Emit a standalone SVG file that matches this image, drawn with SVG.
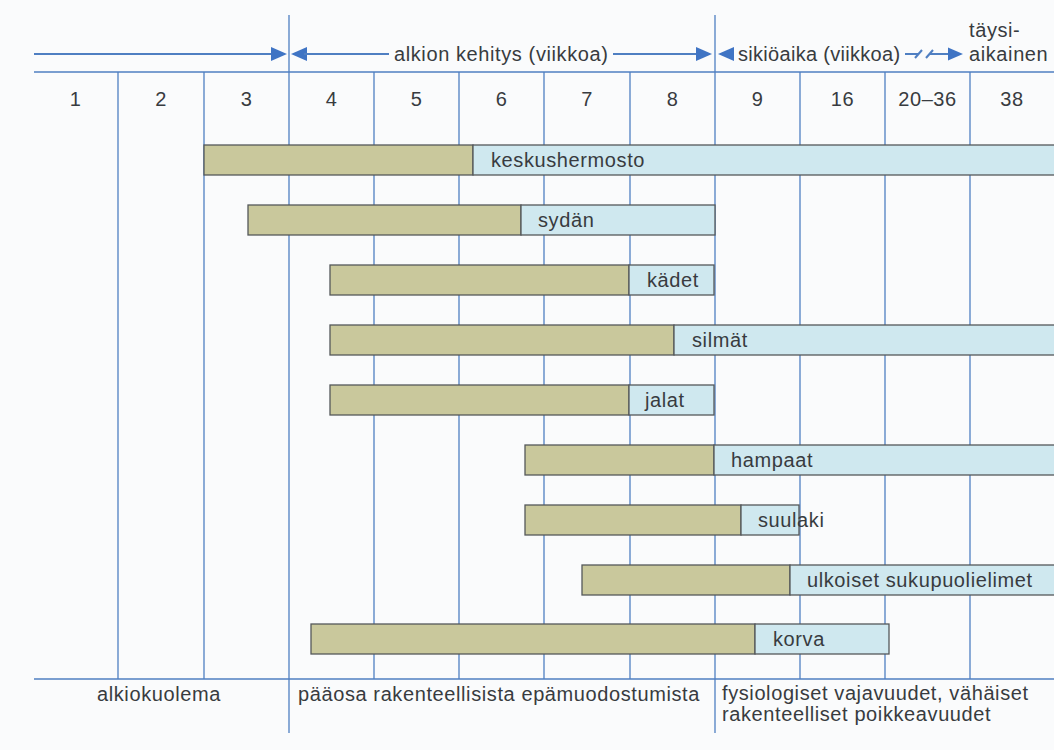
<svg xmlns="http://www.w3.org/2000/svg" width="1054" height="750" viewBox="0 0 1054 750">
  <defs>
    <style>
      .bg { fill: #fafbfc; }
      .grid { stroke: #4f7fc2; stroke-width: 1.3; fill: none; }
      .axis { stroke: #4f7fc2; stroke-width: 2; fill: none; }
      .head { fill: #3f74c4; }
      .t { font-family: "Liberation Sans", Arial, sans-serif; font-size: 20px; letter-spacing: 0.6px; fill: #383b40; }
      .c { text-anchor: middle; }
      .g { fill: #c9c89c; stroke: #55585a; stroke-width: 1.3; }
      .b { fill: #cfe8ef; stroke: #55585a; stroke-width: 1.3; }
    </style>
  </defs>
  <rect class="bg" x="0" y="0" width="1054" height="750"/>

  <g id="grid">
    <line class="grid" x1="34" y1="72" x2="1054" y2="72"/>
    <line class="grid" x1="34" y1="679" x2="1054" y2="679"/>
    <line class="grid" x1="118" y1="72" x2="118" y2="679"/>
    <line class="grid" x1="204" y1="72" x2="204" y2="679"/>
    <line class="grid" x1="289" y1="15" x2="289" y2="733"/>
    <line class="grid" x1="374" y1="72" x2="374" y2="679"/>
    <line class="grid" x1="459" y1="72" x2="459" y2="679"/>
    <line class="grid" x1="544" y1="72" x2="544" y2="679"/>
    <line class="grid" x1="630" y1="72" x2="630" y2="679"/>
    <line class="grid" x1="715" y1="15" x2="715" y2="733"/>
    <line class="grid" x1="800" y1="72" x2="800" y2="679"/>
    <line class="grid" x1="885" y1="72" x2="885" y2="679"/>
    <line class="grid" x1="970" y1="72" x2="970" y2="679"/>
  </g>

  <g id="week-labels" class="t c">
    <text x="75.5" y="106">1</text>
    <text x="161" y="106">2</text>
    <text x="246.5" y="106">3</text>
    <text x="331.5" y="106">4</text>
    <text x="416.5" y="106">5</text>
    <text x="501.5" y="106">6</text>
    <text x="587" y="106">7</text>
    <text x="672.5" y="106">8</text>
    <text x="757.5" y="106">9</text>
    <text x="842.5" y="106">16</text>
    <text x="927.5" y="106">20–36</text>
    <text x="1012" y="106">38</text>
  </g>

  <g id="connectors">
    <line class="axis" x1="34" y1="54" x2="274" y2="54"/>
    <polygon class="head" points="287,54 271,47 271,61"/>
    <polygon class="head" points="291,54 307,47 307,61"/>
    <line class="axis" x1="304" y1="54" x2="389" y2="54"/>
    <line class="axis" x1="613" y1="54" x2="699" y2="54"/>
    <polygon class="head" points="712,54 696,47 696,61"/>
    <polygon class="head" points="718,54 734,47 734,61"/>
    <line class="axis" x1="905" y1="54" x2="918" y2="54"/>
    <line class="axis" x1="915" y1="58" x2="922" y2="50" stroke-width="1.4"/>
    <line class="axis" x1="926" y1="58" x2="933" y2="50" stroke-width="1.4"/>
    <line class="axis" x1="930" y1="54" x2="951" y2="54"/>
    <polygon class="head" points="963,54 948,47.5 948,60.5"/>
  </g>

  <g id="header-labels" class="t">
    <text x="394" y="61">alkion kehitys (viikkoa)</text>
    <text x="738" y="61" style="letter-spacing:0.3px">sikiöaika (viikkoa)</text>
    <text x="969" y="37">täysi-</text>
    <text x="969" y="61">aikainen</text>
  </g>

  <g id="bar-keskushermosto">
    <rect class="g" x="204" y="145" width="269" height="30"/>
    <rect class="b" x="473" y="145" width="590" height="30"/>
    <text class="t" x="491" y="167">keskushermosto</text>
  </g>
  <g id="bar-sydan">
    <rect class="g" x="248" y="205" width="273" height="30"/>
    <rect class="b" x="521" y="205" width="194" height="30"/>
    <text class="t" x="538" y="227">sydän</text>
  </g>
  <g id="bar-kadet">
    <rect class="g" x="330" y="265" width="299" height="30"/>
    <rect class="b" x="629" y="265" width="85" height="30"/>
    <text class="t" x="647" y="287">kädet</text>
  </g>
  <g id="bar-silmat">
    <rect class="g" x="330" y="325" width="344" height="30"/>
    <rect class="b" x="674" y="325" width="389" height="30"/>
    <text class="t" x="692" y="347">silmät</text>
  </g>
  <g id="bar-jalat">
    <rect class="g" x="330" y="385" width="299" height="30"/>
    <rect class="b" x="629" y="385" width="85" height="30"/>
    <text class="t" x="645" y="407">jalat</text>
  </g>
  <g id="bar-hampaat">
    <rect class="g" x="525" y="445" width="189" height="30"/>
    <rect class="b" x="714" y="445" width="349" height="30"/>
    <text class="t" x="731" y="467">hampaat</text>
  </g>
  <g id="bar-suulaki">
    <rect class="g" x="525" y="505" width="216" height="30"/>
    <rect class="b" x="741" y="505" width="58" height="30"/>
    <text class="t" x="758" y="527">suulaki</text>
  </g>
  <g id="bar-ulkoiset">
    <rect class="g" x="582" y="565" width="208" height="30"/>
    <rect class="b" x="790" y="565" width="273" height="30"/>
    <text class="t" x="807" y="587">ulkoiset sukupuolielimet</text>
  </g>
  <g id="bar-korva">
    <rect class="g" x="311" y="624" width="444" height="30"/>
    <rect class="b" x="755" y="624" width="134" height="30"/>
    <text class="t" x="773" y="646">korva</text>
  </g>

  <g id="footer-labels" class="t">
    <text x="97" y="701">alkiokuolema</text>
    <text x="298" y="701">pääosa rakenteellisista epämuodostumista</text>
    <text x="722" y="700">fysiologiset vajavuudet, vähäiset</text>
    <text x="722" y="721">rakenteelliset poikkeavuudet</text>
  </g>
</svg>
